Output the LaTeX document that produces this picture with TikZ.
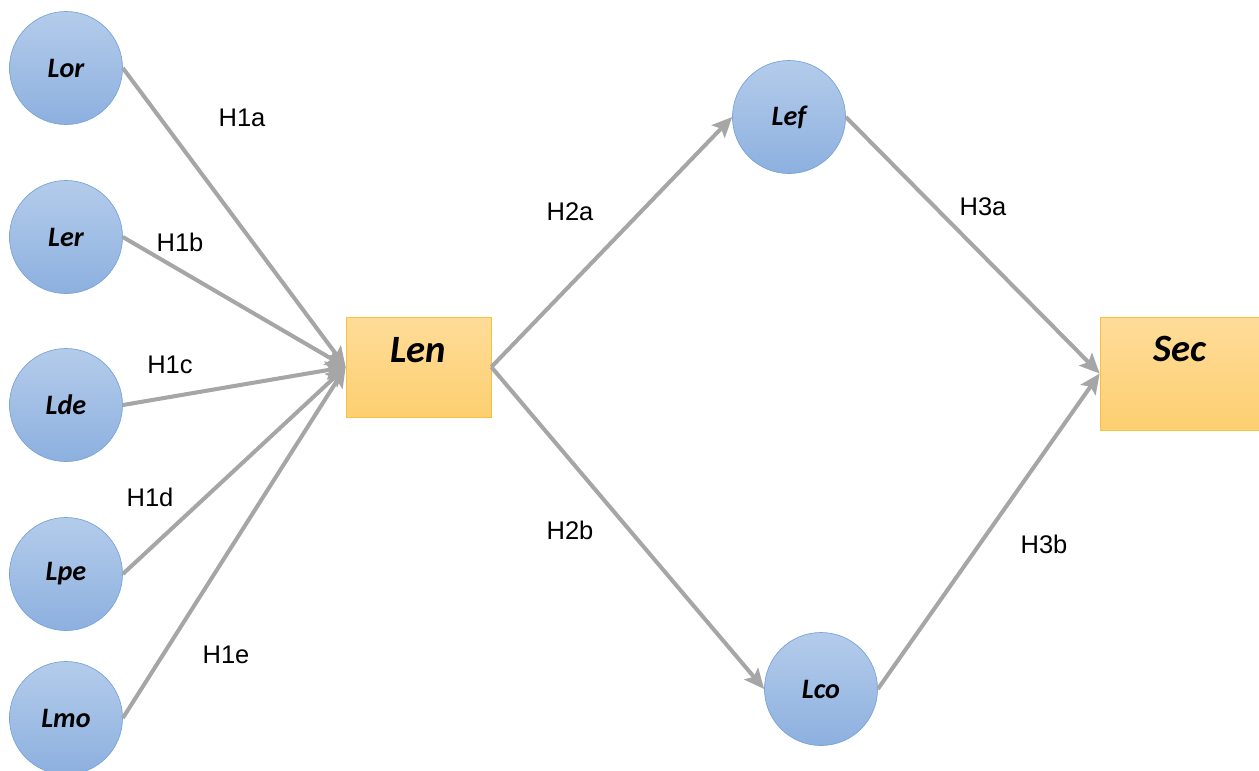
\documentclass[tikz,border=0pt]{standalone}
\usepackage{fontspec}
\setmainfont{Liberation Sans}
\newfontfamily\calib{Carlito}
\usetikzlibrary{arrows.meta}

\definecolor{circfill1}{HTML}{B4CCEB}
\definecolor{circfill2}{HTML}{8DB0DF}
\definecolor{circline}{HTML}{78A4D9}
\definecolor{boxfill1}{HTML}{FEDC99}
\definecolor{boxfill2}{HTML}{FDCF70}
\definecolor{boxline}{HTML}{F6C244}
\definecolor{arrowgray}{HTML}{A6A6A6}

\begin{document}
\begin{tikzpicture}[
  var/.style={circle, draw=circline, top color=circfill1, bottom color=circfill2,
    minimum size=2.26cm, inner sep=0pt, font=\calib\bfseries\itshape\fontsize{16}{18}\selectfont},
  box/.style={rectangle, draw=boxline, top color=boxfill1, bottom color=boxfill2,
    inner sep=0pt, font=\calib\bfseries\itshape\fontsize{22}{24}\selectfont},
  hyp/.style={font=\fontsize{14.5}{16}\selectfont}
]
\useasboundingbox (0,0) rectangle (25.18,-15.4);

\node[var] (lor) at (1.32,-1.36) {Lor};
\node[var] (ler) at (1.32,-4.74) {Ler};
\node[var] (lde) at (1.32,-8.10) {Lde};
\node[var] (lpe) at (1.32,-11.48) {Lpe};
\node[var] (lmo) at (1.32,-14.36) {Lmo};
\node[var] (lef) at (15.78,-2.34) {Lef};
\node[var] (lco) at (16.42,-13.78) {Lco};

\node[box, minimum width=2.9cm, text height=0.9cm, text depth=1.1cm] (len) at (8.37,-7.34) {Len};
\node[box, minimum width=3.2cm, text height=0.88cm, text depth=1.38cm] (sec) at (23.6,-7.47) {Sec};

\begin{scope}[line width=2.3pt, draw=arrowgray, -{Stealth[length=4mm,width=3.6mm,inset=0.8mm]}]
\draw (lor.east) -- (len.west);
\draw (ler.east) -- (len.west);
\draw (lde.east) -- (len.west);
\draw (lpe.east) -- (len.west);
\draw (lmo.east) -- (len.west);
\draw (len.east) -- (lef.west);
\draw (len.east) -- (lco.west);
\draw (lef.east) -- (sec.west);
\draw (lco.east) -- (sec.west);
\end{scope}

\node[hyp] (h1a) at (4.84,-2.36) {H1a};
\node[hyp] (h1b) at (3.60,-4.84) {H1b};
\node[hyp] (h1c) at (3.40,-7.30) {H1c};
\node[hyp] (h1d) at (3.00,-9.94) {H1d};
\node[hyp] (h1e) at (4.52,-13.10) {H1e};
\node[hyp] (h2a) at (11.40,-4.24) {H2a};
\node[hyp] (h2b) at (11.40,-10.60) {H2b};
\node[hyp] (h3a) at (19.66,-4.14) {H3a};
\node[hyp] (h3b) at (20.88,-10.88) {H3b};

\end{tikzpicture}
\end{document}
